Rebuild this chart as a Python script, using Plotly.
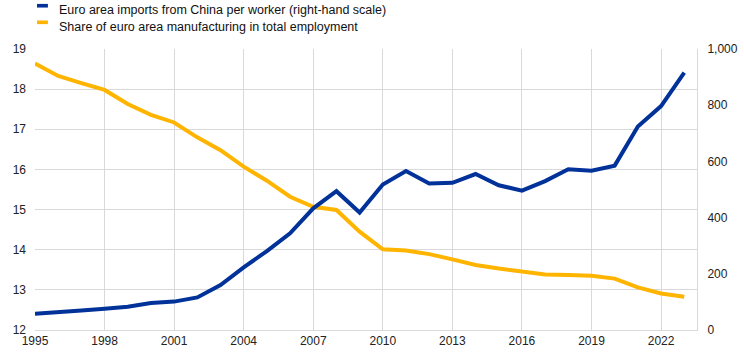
import plotly.graph_objects as go

years = list(range(1995, 2024))
share_manuf = [18.64, 18.33, 18.15, 17.98, 17.63, 17.36, 17.17, 16.80, 16.48, 16.07,
               15.72, 15.32, 15.07, 14.99, 14.45, 14.01, 13.98, 13.89, 13.76, 13.62,
               13.53, 13.45, 13.38, 13.37, 13.35, 13.28, 13.06, 12.91, 12.83]
imports_china = [58, 62, 69, 76, 83, 96, 101, 116, 160, 223,
                 281, 344, 433, 494, 418, 518, 566, 521, 524, 555,
                 515, 496, 530, 572, 567, 585, 724, 797, 916]
x_ticks = list(range(1995, 2023, 3))
left_ticks = list(range(12, 20))
right_ticks = list(range(0, 1001, 200))

name_imports = "Euro area imports from China per worker (right-hand scale)"
name_share = "Share of euro area manufacturing in total employment"
BLUE = "#003299"
ORANGE = "#FFB400"
GRID = "#d9d9d9"
FONT = dict(family="Liberation Sans, Arial, sans-serif", size=12, color="#222222")

fig = go.Figure()
fig.add_trace(go.Scatter(x=years, y=share_manuf, mode="lines", name=name_share,
                         line=dict(color=ORANGE, width=4), yaxis="y", showlegend=False))
fig.add_trace(go.Scatter(x=years, y=imports_china, mode="lines", name=name_imports,
                         line=dict(color=BLUE, width=4), yaxis="y2", showlegend=False))

# custom legend
legend_items = [(name_imports, BLUE, 1.154, 1.138), (name_share, ORANGE, 1.095, 1.079)]
for nm, col, ys, yt in legend_items:
    fig.add_shape(type="rect", xref="paper", yref="paper",
                  x0=0.003, x1=0.0195, y0=ys - 0.0065, y1=ys + 0.0065,
                  fillcolor=col, line=dict(width=0))
    fig.add_annotation(text=nm, xref="paper", yref="paper", x=0.033, y=yt,
                       xanchor="left", yanchor="middle", showarrow=False,
                       font=dict(family=FONT["family"], size=12.5, color="#111111"))

fig.update_layout(
    width=744, height=357,
    margin=dict(l=35, r=47, t=49, b=27, autoexpand=False),
    paper_bgcolor="white", plot_bgcolor="white",
    font=FONT,
    xaxis=dict(range=[1995, 2023.55], tickvals=x_ticks, ticktext=[str(t) for t in x_ticks],
               showgrid=True, gridcolor=GRID, gridwidth=1, zeroline=False, automargin=False,
               showline=True, linecolor=GRID, linewidth=1, ticks="", tickfont=FONT),
    yaxis=dict(range=[12, 19], tickvals=left_ticks, showgrid=True, gridcolor=GRID,
               gridwidth=1, zeroline=False, showline=False, ticks="", tickfont=FONT,
               ticklabelstandoff=8, automargin=False),
    yaxis2=dict(range=[0, 1000], tickvals=right_ticks, tickformat=",", overlaying="y",
                side="right", showgrid=False, zeroline=False, showline=True,
                linecolor=GRID, linewidth=1, ticks="", tickfont=FONT,
                ticklabelstandoff=7, automargin=False),
)

fig.write_html("out.html", config={"displayModeBar": False},
               post_script="document.body.style.margin='0px';")
